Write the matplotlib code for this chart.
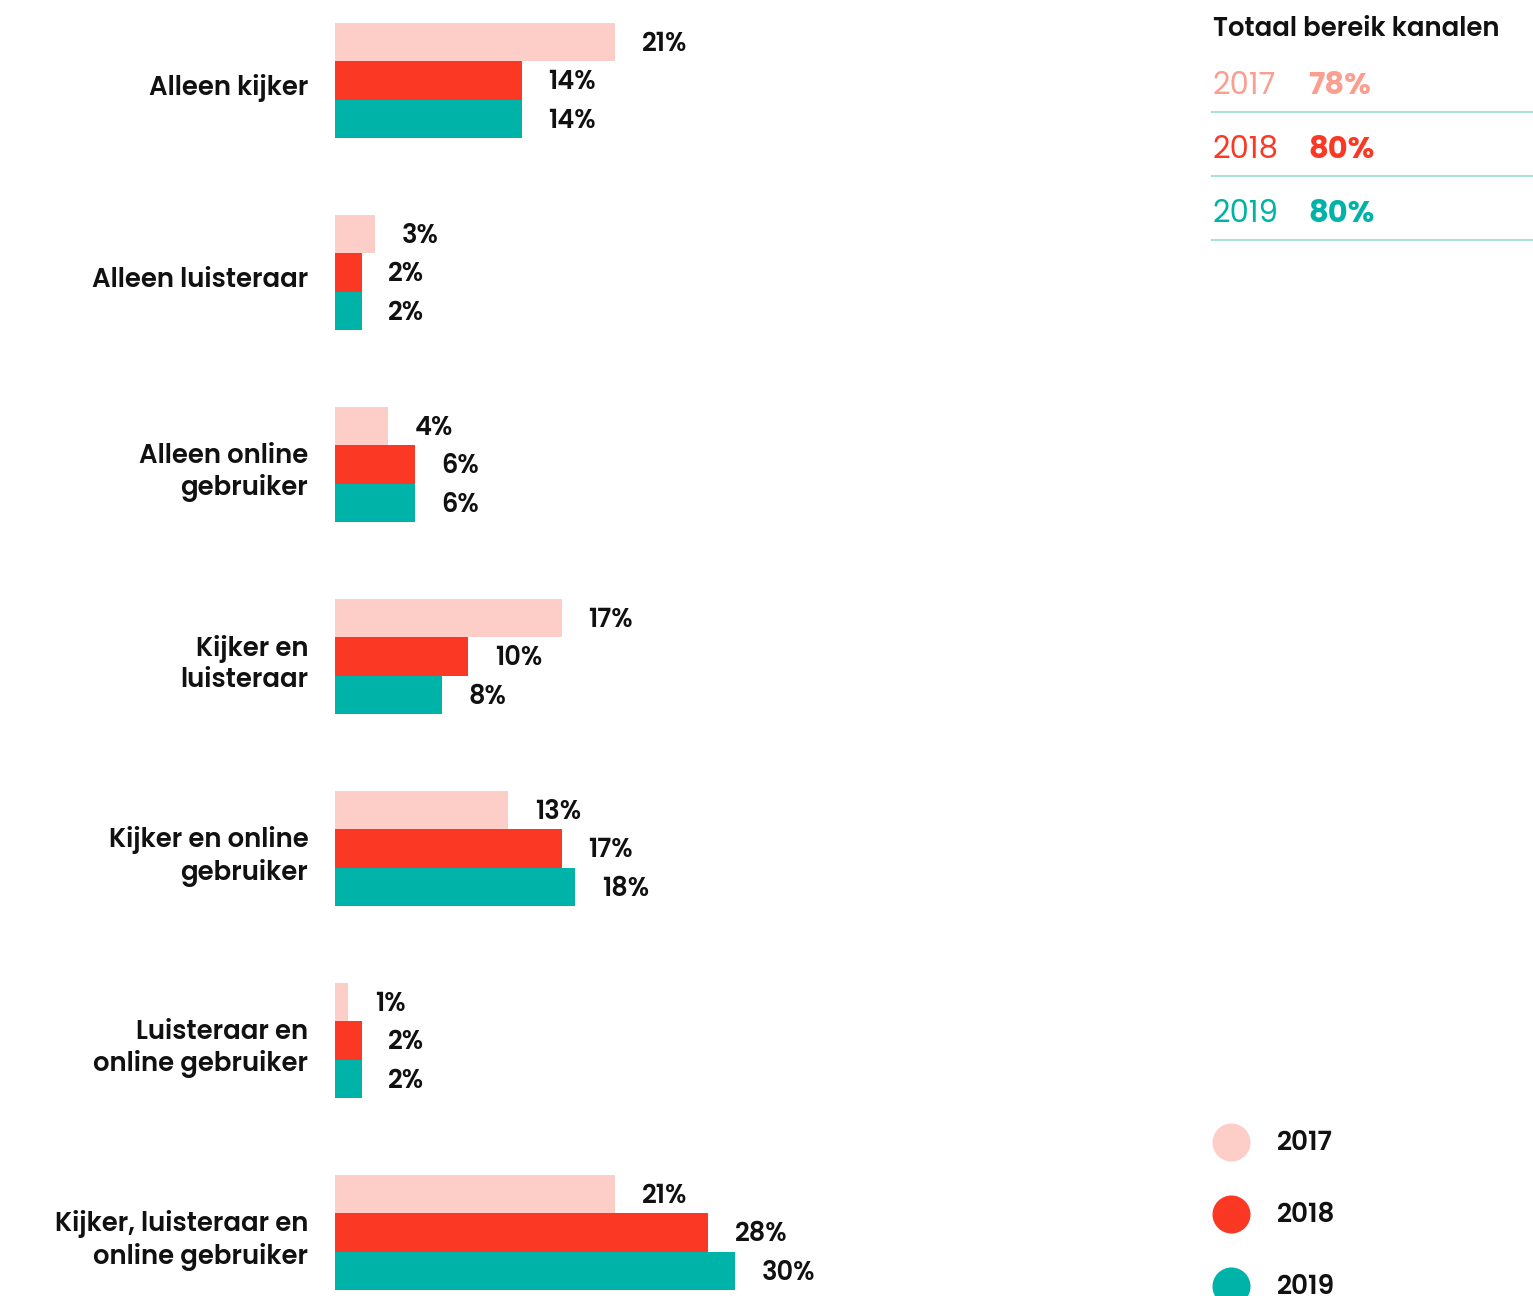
import matplotlib.pyplot as plt
from matplotlib.lines import Line2D

categories = ["Alleen kijker", "Alleen luisteraar", "Alleen online\ngebruiker",
              "Kijker en\nluisteraar", "Kijker en online\ngebruiker",
              "Luisteraar en\nonline gebruiker", "Kijker, luisteraar en\nonline gebruiker"]
years = ["2017", "2018", "2019"]
v2017 = [21, 3, 4, 17, 13, 1, 21]
v2018 = [14, 2, 6, 10, 17, 2, 28]
v2019 = [14, 2, 6, 8, 18, 2, 30]
totals = ["78%", "80%", "80%"]

colors = ["#FDCDC8", "#FB3823", "#00B3A8"]
text_colors = ["#FB9E8F", "#FB3823", "#00B3A8"]

plt.rcParams['font.family'] = ['Poppins', 'Inter', 'DejaVu Sans']

W, H = 1533, 1296
fig = plt.figure(figsize=(W / 100, H / 100), dpi=100)

# main bar axes: x from 335px, 1% = 13.33px
ax = fig.add_axes([335 / W, 0, 800 / W, 1])
ax.set_xlim(0, 60)
ax.set_ylim(6.33, -0.42)
ax.axis('off')

bh = 0.2
series = [v2017, v2018, v2019]
for k, vals in enumerate(series):
    off = (k - 1) * bh
    for i, v in enumerate(vals):
        ax.barh(i + off, v, height=bh, color=colors[k], linewidth=0)
        ax.text(v + 2.0, i + off + 0.012, f"{v}%", va='center', ha='left',
                fontsize=18.5, fontweight='semibold', color='#111111')

for i, c in enumerate(categories):
    ax.text(-2.0, i + 0.04, c, ha='right', va='center', fontsize=18.7,
            fontweight='semibold', color='#111111', linespacing=1.22)

# overlay in pixel coords for the right-hand panels
ov = fig.add_axes([0, 0, 1, 1])
ov.set_xlim(0, W)
ov.set_ylim(H, 0)
ov.axis('off')

ov.text(1213, 30, "Totaal bereik kanalen", ha='left', va='center',
        fontsize=18.7, fontweight='semibold', color='#111111')
for k, y in enumerate(years):
    yc = 87 + 64 * k
    ov.text(1213, yc, y, ha='left', va='center', fontsize=22,
            fontweight='normal', color=text_colors[k])
    ov.text(1308, yc, totals[k], ha='left', va='center', fontsize=22,
            fontweight='bold', color=text_colors[k])
    ov.add_line(Line2D([1212, 1533], [yc + 25, yc + 25], color='#A8E4DE', lw=1.5))

for k, y in enumerate(years):
    yc = 1142 + 72 * k
    ov.scatter([1231], [yc], s=750, color=colors[k], linewidths=0, clip_on=False)
    ov.text(1277, yc + 1, y, ha='left', va='center', fontsize=19,
            fontweight='semibold', color='#111111')

fig.savefig("out.png", dpi=100)
